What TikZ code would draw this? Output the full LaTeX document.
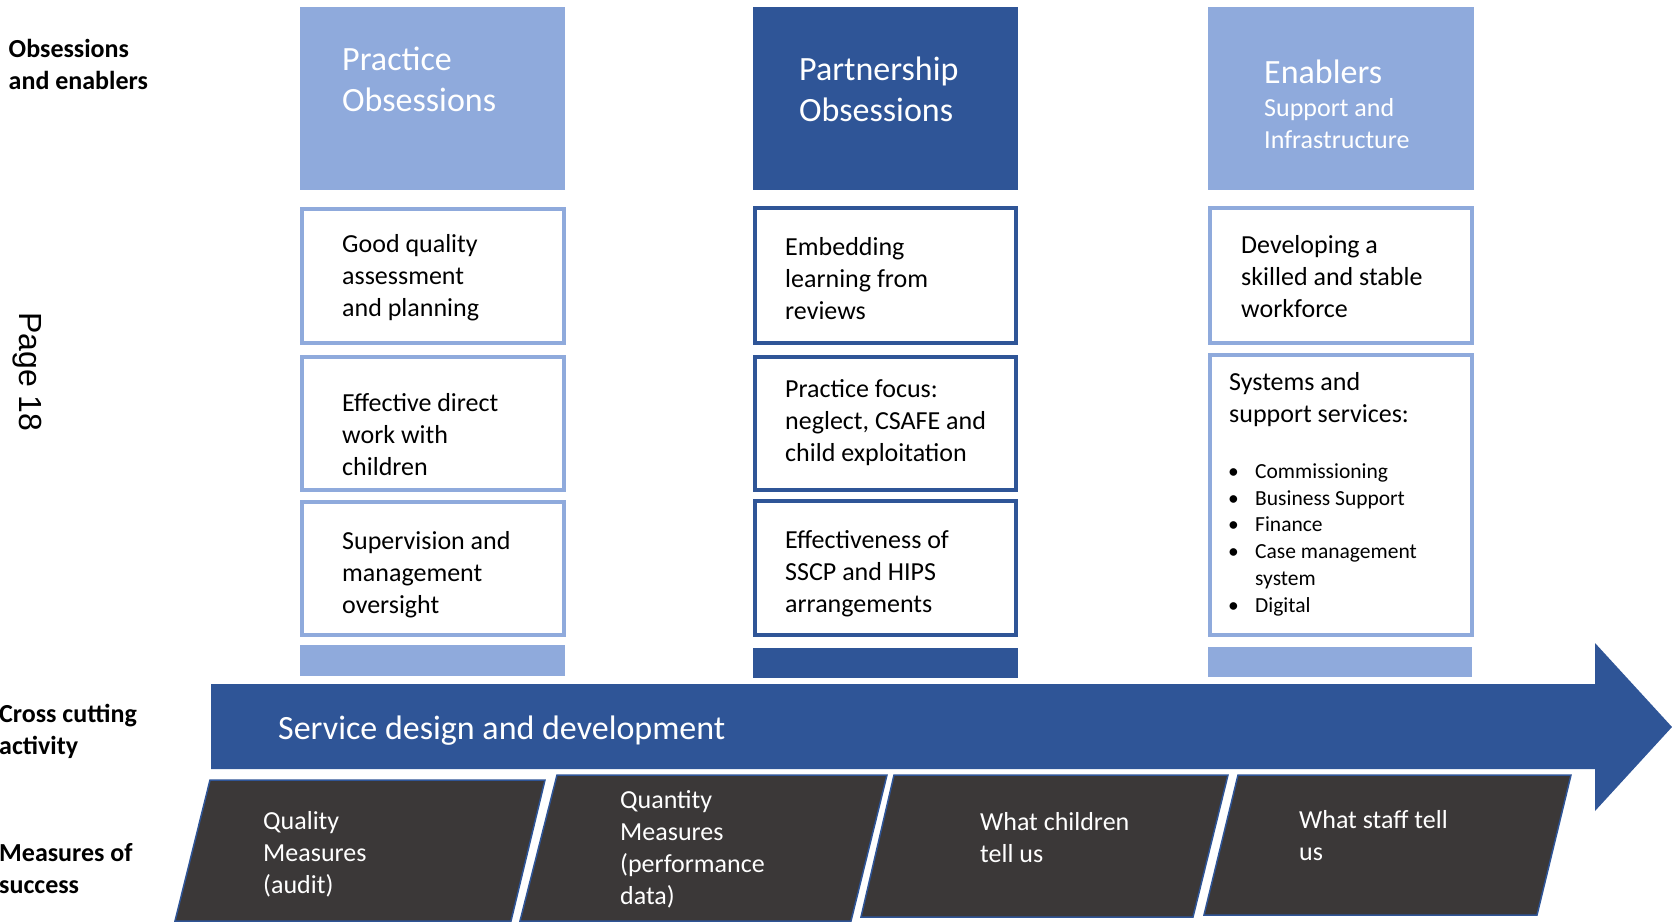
\documentclass[tikz,border=0pt]{standalone}
\usepackage{fontspec}
\setmainfont{Carlito}
\newfontfamily\pagefont{Liberation Sans}
\definecolor{lightblue}{HTML}{8FAADC}
\definecolor{darkblue}{HTML}{2F5597}
\definecolor{charcoal}{HTML}{3B3838}
\begin{document}
\begin{tikzpicture}[x=1pt,y=-1pt,
  headbox/.style={fill=#1, draw=none, inner sep=0pt, anchor=north west, minimum width=265pt, minimum height=183pt},
  itembox/.style={draw=#1, line width=4pt, fill=white, inner sep=0pt, anchor=north west},
  barbox/.style={fill=#1, draw=none, inner sep=0pt, anchor=north west, minimum width=265pt, minimum height=30pt},
  sidelabel/.style={anchor=west, align=left, inner sep=0pt, font=\fontsize{26}{32}\selectfont\bfseries},
  headtxt/.style={anchor=west, align=left, inner sep=0pt, text=white, font=\fontsize{34}{41.5}\selectfont},
  subtxt/.style={anchor=west, align=left, inner sep=0pt, text=white, font=\fontsize{26}{32}\selectfont},
  bodytxt/.style={anchor=west, align=left, inner sep=0pt, font=\fontsize{26}{32}\selectfont},
  measure/.style={fill=charcoal, draw=darkblue, line width=1.5pt},
  measuretxt/.style={anchor=west, align=left, inner sep=0pt, text=white, font=\fontsize{26}{32}\selectfont}
]
\useasboundingbox (0,0) rectangle (1672,923);

% row labels on the left
\node[sidelabel] (lblobs) at (8.5,64.5) {Obsessions\\and enablers};
\node[sidelabel] (lblcross) at (-1,731) {Cross cutting\\activity};
\node[sidelabel] (lblmeas) at (-1,869) {Measures of\\success};
\node[rotate=-90, inner sep=0pt, font=\pagefont\fontsize{32}{38}\selectfont] (pageno) at (27,372) {Page 18};

% column headers
\node[headbox=lightblue] (hprac) at (300,7) {};
\node[headbox=darkblue] (hpart) at (753,7) {};
\node[headbox=lightblue, minimum width=266pt] (henab) at (1208,7) {};
\node[headtxt] (tprac) at (342,79.5) {Practice\\Obsessions};
\node[headtxt] (tpart) at (799,89.5) {Partnership\\Obsessions};
\node[headtxt] (tenab) at (1264,72) {Enablers};
\node[subtxt] (tsupp) at (1264,124) {Support and\\Infrastructure};

% practice obsessions
\node[itembox=lightblue, minimum width=261.5pt, minimum height=134pt] (p1) at (300,207) {};
\node[itembox=lightblue, minimum width=261.5pt, minimum height=133pt] (p2) at (300,355) {};
\node[itembox=lightblue, minimum width=261.5pt, minimum height=133pt] (p3) at (300,500) {};
\node[bodytxt] (tp1) at (342,278) {Good quality\\assessment\\and planning};
\node[bodytxt] (tp2) at (342,435) {Effective direct\\work with\\children};
\node[bodytxt] (tp3) at (342,575) {Supervision and\\management\\oversight};

% partnership obsessions
\node[itembox=darkblue, minimum width=261pt, minimum height=135pt] (q1) at (753,206) {};
\node[itembox=darkblue, minimum width=261pt, minimum height=133pt] (q2) at (753,355) {};
\node[itembox=darkblue, minimum width=261pt, minimum height=134pt] (q3) at (753,499) {};
\node[bodytxt] (tq1) at (785,279) {Embedding\\learning from\\reviews};
\node[bodytxt] (tq2) at (785,423) {Practice focus:\\neglect, CSAFE and\\child exploitation};
\node[bodytxt] (tq3) at (785,574) {Effectiveness of\\SSCP and HIPS\\arrangements};

% enablers
\node[itembox=lightblue, minimum width=262pt, minimum height=135pt] (e1) at (1208,206) {};
\node[itembox=lightblue, minimum width=262pt, minimum height=280pt] (e2) at (1208,353) {};
\node[bodytxt] (te1) at (1241,277) {Developing a\\skilled and stable\\workforce};
\node[bodytxt] (te2) at (1229,400) {Systems and\\support services:};
\node[anchor=west, inner sep=0pt, font=\fontsize{21.5}{26.8}\selectfont] (te3) at (1228,540)
  {\begin{tabular}{@{}p{27pt}@{}l@{}}
   • & Commissioning\\
   • & Business Support\\
   • & Finance\\
   • & Case management\\
     & system\\
   • & Digital
   \end{tabular}};

% base bars under each column
\node[barbox=lightblue, minimum height=31pt] (bprac) at (300,645) {};
\node[barbox=darkblue] (bpart) at (753,648) {};
\node[barbox=lightblue, minimum width=264pt] (benab) at (1208,647) {};

% cross cutting arrow
\fill[darkblue] (211,684) -- (1595,684) -- (1595,643) -- (1672,727)
  -- (1595,811) -- (1595,769) -- (211,769) -- cycle;
\node[anchor=west, inner sep=0pt, text=white, font=\fontsize{34}{41}\selectfont] (tsdd) at (278,731) {Service design and development};

% measures of success
\draw[measure] (210,780) -- (545,780) -- (511,921) -- (175,921) -- cycle;
\draw[measure] (557,775) -- (887,775) -- (851,921) -- (520,921) -- cycle;
\draw[measure] (894,775) -- (1228,775) -- (1193,917) -- (861,917) -- cycle;
\draw[measure] (1238,775) -- (1571,775) -- (1537,915) -- (1204,915) -- cycle;
\node[measuretxt] (m1) at (263,854) {Quality\\Measures\\(audit)};
\node[measuretxt] (m2) at (620,849.5) {Quantity\\Measures\\(performance\\data)};
\node[measuretxt] (m3) at (980,838) {What children\\tell us};
\node[measuretxt] (m4) at (1299,836) {What staff tell\\us};
\end{tikzpicture}
\end{document}
